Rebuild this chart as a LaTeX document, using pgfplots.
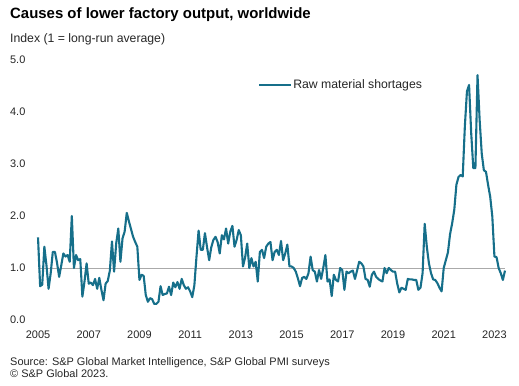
\documentclass[border=0pt]{standalone}
\usepackage{fontspec}
\setmainfont{Liberation Sans}
\usepackage{pgfplots}
\usepackage{pgfplotstable}
\pgfplotsset{compat=1.18}
\definecolor{teal1}{RGB}{22,111,138}
\definecolor{grid1}{RGB}{170,170,170}
\definecolor{txt}{RGB}{38,38,38}
\pgfplotstableread{
v
1.59
0.65
0.68
1.41
1.05
0.60
0.90
1.31
1.31
1.10
0.83
1.05
1.28
1.22
1.25
1.12
2.00
1.00
1.25
1.15
1.17
0.45
0.74
1.09
0.70
0.72
0.67
0.79
0.60
0.81
0.58
0.38
0.70
0.75
0.95
1.51
0.93
1.47
1.76
1.12
1.57
1.70
2.06
1.90
1.75
1.60
1.50
1.41
0.77
0.87
0.85
0.48
0.35
0.42
0.40
0.31
0.31
0.35
0.65
0.48
0.50
0.51
0.64
0.48
0.72
0.63
0.73
0.60
0.79
0.67
0.60
0.63
0.55
0.44
0.67
1.22
1.72
1.35
1.35
1.67
1.40
1.15
1.40
1.54
1.60
1.50
1.28
1.63
1.55
1.76
1.47
1.70
1.81
1.41
1.54
1.73
1.63
1.03
1.20
1.47
1.00
1.19
1.03
1.12
0.74
1.31
1.35
1.19
1.41
1.47
1.50
1.15
1.31
1.35
1.25
1.52
1.15
1.28
1.45
1.03
1.03
1.00
0.93
0.80
0.65
0.81
0.83
0.79
0.90
1.22
0.96
0.93
0.74
0.96
0.79
1.00
1.25
0.74
0.78
0.46
0.87
0.77
0.74
1.00
0.96
0.58
0.93
0.90
0.93
0.95
0.79
0.95
1.12
1.09
1.03
0.79
0.77
0.64
0.87
0.93
0.83
0.79
0.76
0.74
1.00
0.90
1.00
0.96
0.93
0.93
0.70
0.53
0.62
0.60
0.58
0.79
0.78
0.78
0.77
0.77
0.58
0.62
0.90
1.85
1.41
1.09
0.90
0.78
0.77
0.71
0.62
0.55
1.00
1.15
1.30
1.65
1.86
2.12
2.60
2.75
2.79
2.76
3.72
4.40
4.52
3.60
2.92
2.92
4.71
3.85
3.20
2.88
2.85
2.60
2.37
1.99
1.22
1.21
1.00
0.90
0.77
0.95
}\rawdata
\begin{document}
\begin{tikzpicture}
\path[use as bounding box] (0,0) rectangle (519bp,386bp);
\node[anchor=base west,inner sep=0pt,font=\fontsize{15}{18}\selectfont\bfseries] at (10bp,367.5bp) {Causes of lower factory output, worldwide};
\node[anchor=base west,inner sep=0pt,text=txt,font=\fontsize{12.3}{15}\selectfont] at (10bp,343bp) {Index (1 = long-run average)};
\node[anchor=base west,inner sep=0pt,text=txt,font=\fontsize{11}{13}\selectfont] at (10bp,20.5bp) {Source: S\&P Global Market Intelligence, S\&P Global PMI surveys};
\node[anchor=base west,inner sep=0pt,text=txt,font=\fontsize{11}{13}\selectfont] at (10bp,9bp) {\textcopyright{} S\&P Global 2023.};
\begin{axis}[
  at={(35.9bp,66bp)}, anchor=south west,
  scale only axis, width=471.2bp, height=260bp,
  xmin=-1, xmax=222, ymin=0, ymax=5,
  axis line style={draw=none}, tick style={draw=none},
  major tick length=0pt,
  xtick={0,24,...,216},
  xticklabels={2005,2007,2009,2011,2013,2015,2017,2019,2021,2023},
  ytick={0,1,2,3,4,5},
  yticklabels={0.0,1.0,2.0,3.0,4.0,5.0},
  tick label style={font=\fontsize{11}{13}\selectfont, text=txt},
  xticklabel style={yshift=-7bp},
  yticklabel style={xshift=-7bp},
  clip=false,
  legend style={draw=none, fill=none, at={(0.4713,0.905)}, anchor=west,
    inner sep=0pt, outer sep=0pt,
    nodes={inner sep=1.2bp}, font=\fontsize{12.3}{15}\selectfont, text=txt},
  legend image code/.code={\draw[#1] (0bp,0bp) -- (32bp,0bp);},
]
\addplot[grid1, line width=0.9bp, forget plot] coordinates {(0,1) (221,1)};
\addplot[teal1, line width=2.1bp, line join=round] table[x expr=\coordindex, y=v] {\rawdata};
\addlegendentry{Raw material shortages}
\end{axis}
\end{tikzpicture}
\end{document}
